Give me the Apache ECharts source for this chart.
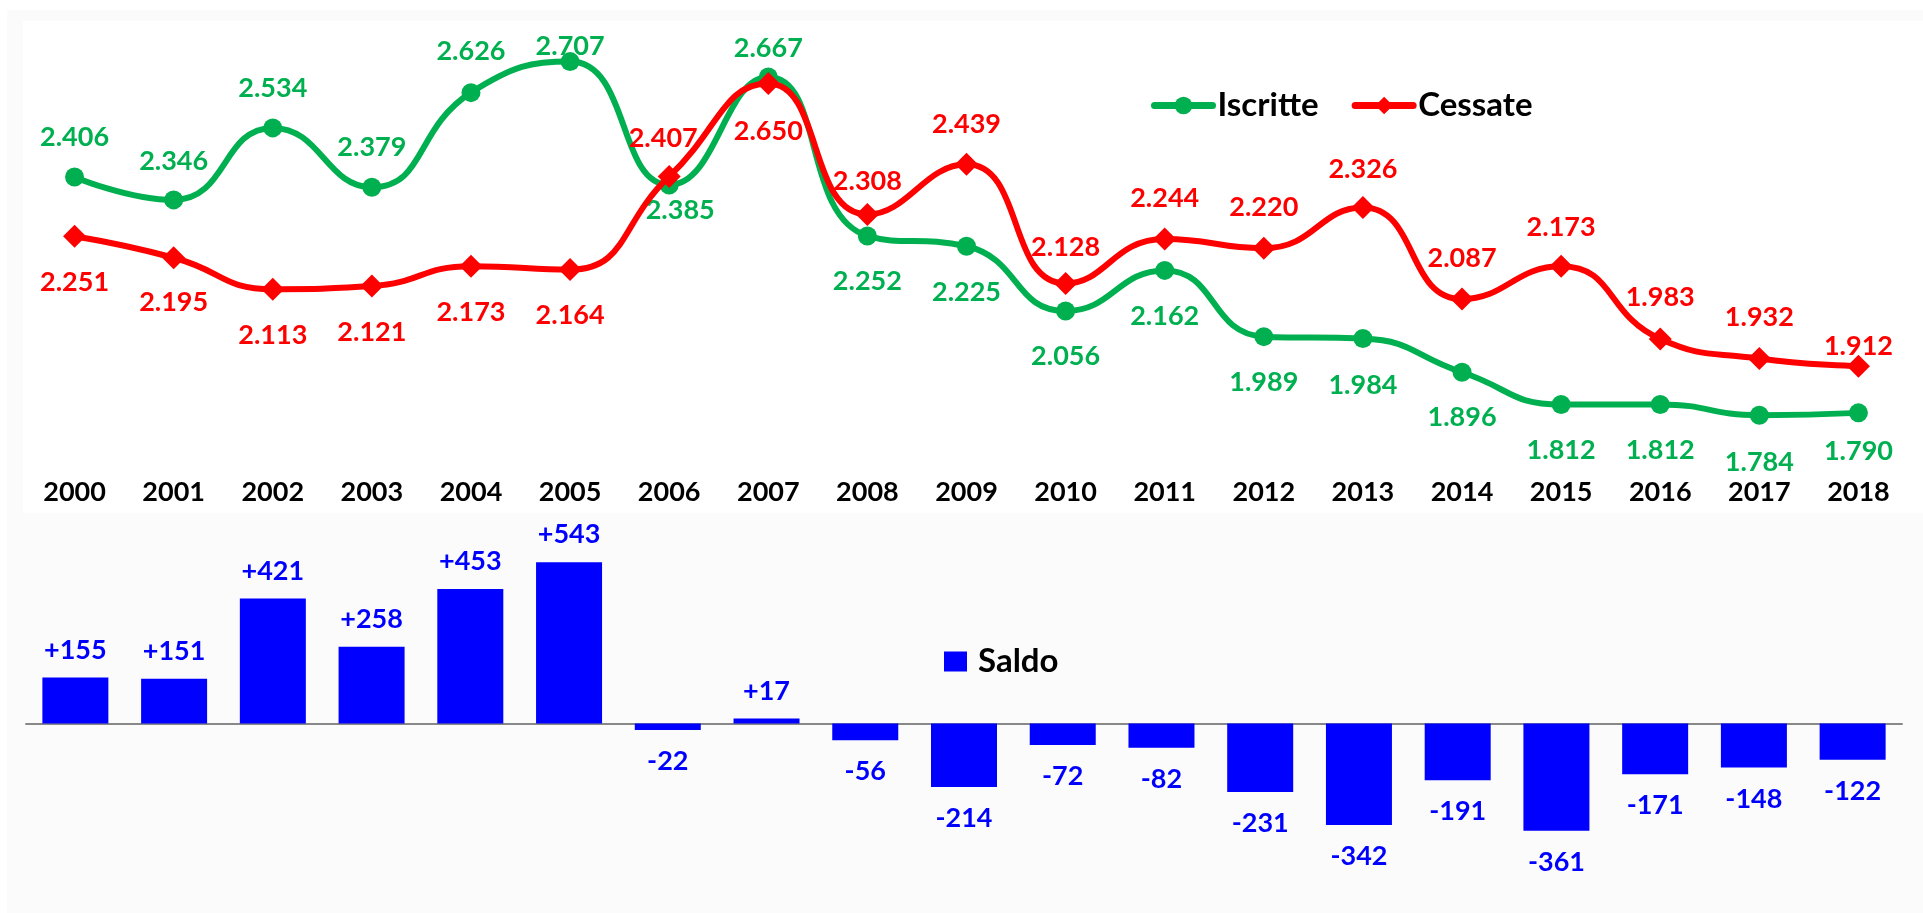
<!DOCTYPE html>
<html>
<head>
<meta charset="utf-8">
<script src="https://cdn.jsdelivr.net/npm/echarts@6/dist/echarts.min.js"></script>
<style>
html, body { margin: 0; padding: 0; background: #fff; }
#main { width: 1923px; height: 913px; }
</style>
</head>
<body>
<div id="main"></div>
<script>
var anni = ['2000', '2001', '2002', '2003', '2004', '2005', '2006', '2007', '2008', '2009',
  '2010', '2011', '2012', '2013', '2014', '2015', '2016', '2017', '2018'];
var iscritte = [2406, 2346, 2534, 2379, 2626, 2707, 2385, 2667, 2252, 2225,
  2056, 2162, 1989, 1984, 1896, 1812, 1812, 1784, 1790];
var cessate = [2251, 2195, 2113, 2121, 2173, 2164, 2407, 2650, 2308, 2439,
  2128, 2244, 2220, 2326, 2087, 2173, 1983, 1932, 1912];
var saldo = [155, 151, 421, 258, 453, 543, -22, 17, -56, -214,
  -72, -82, -231, -342, -191, -361, -171, -148, -122];

// where each data label sits, relative to its point (style only)
var dyIscritte = [-40, -39, -40, -40, -41, -15, 25, -29, 45, 46, 45, 46, 46, 47, 45, 46, 46, 47, 38];
var dxIscritte = [0, 0, 0, 0, 0, 0, 11, 0, 0, 0, 0, 0, 0, 0, 0, 0, 0, 0, 0];
var dyCessate = [46, 45, 46, 46, 46, 46, -38, 48, -33, -40, -36, -41, -41, -38, -41, -39, -42, -41, -20];
var dxCessate = [0, 0, 0, 0, 0, 0, -6, 0, 0, 0, 0, 0, 0, 0, 0, 0, 0, 0, 0];

var FONT = 'Lato';
var VERDE = '#00B050', ROSSO = '#FF0000', BLU = '#0000FF';

function fmtMigliaia(v) {
  return (v / 1000).toFixed(3);
}

function puntiConEtichetta(valori, dx, dy) {
  return valori.map(function (v, i) {
    return { value: v, label: { offset: [dx[i], dy[i]] } };
  });
}

var dom = document.getElementById('main');
var myChart = echarts.init(dom);

var option = {
  backgroundColor: '#ffffff',
  animation: false,
  textStyle: { fontFamily: FONT },
  graphic: [
    { type: 'rect', z: -10, shape: { x: 7, y: 10, width: 1916, height: 903 }, style: { fill: '#fbfbfb' } },
    { type: 'rect', z: -9, shape: { x: 23, y: 21, width: 1900, height: 492 }, style: { fill: '#ffffff' } }
  ],
  legend: [
    {
      data: ['Iscritte', 'Cessate'],
      left: 1146,
      top: 84,
      itemWidth: 58,
      itemHeight: 22,
      itemGap: 33,
      lineStyle: { width: 7, cap: 'round' },
      textStyle: { fontSize: 33, fontWeight: 'bold', color: '#000', fontFamily: FONT }
    },
    {
      data: ['Saldo'],
      left: 939,
      top: 640,
      icon: 'rect',
      itemWidth: 23,
      itemHeight: 20,
      textStyle: { fontSize: 33, fontWeight: 'bold', color: '#000', fontFamily: FONT, padding: [0, 0, 0, 6] }
    }
  ],
  grid: [
    { left: 25, right: 15, top: 26, height: 440.5 },
    { left: 26, right: 21, top: 545.3, height: 356.4 }
  ],
  xAxis: [
    {
      type: 'category',
      gridIndex: 0,
      data: anni,
      axisLine: { show: false },
      axisTick: { show: false },
      axisLabel: { margin: 12, fontSize: 27, fontWeight: 'bold', color: '#000', fontFamily: FONT }
    },
    {
      type: 'category',
      gridIndex: 1,
      data: anni,
      axisLine: { onZero: true, lineStyle: { color: '#888888', width: 2 } },
      axisTick: { show: false },
      axisLabel: { show: false }
    }
  ],
  yAxis: [
    { type: 'value', gridIndex: 0, min: 1650, max: 2800, show: false, splitLine: { show: false } },
    { type: 'value', gridIndex: 1, min: -600, max: 600, show: false, splitLine: { show: false } }
  ],
  series: [
    {
      name: 'Iscritte',
      type: 'line',
      xAxisIndex: 0,
      yAxisIndex: 0,
      data: puntiConEtichetta(iscritte, dxIscritte, dyIscritte),
      smooth: 0.5,
      symbol: 'circle',
      symbolSize: 19,
      lineStyle: { color: VERDE, width: 6 },
      itemStyle: { color: VERDE },
      label: {
        show: true,
        position: 'inside',
        formatter: function (p) { return fmtMigliaia(p.value); },
        fontSize: 27,
        fontWeight: 'bold',
        color: VERDE,
        fontFamily: FONT
      },
      z: 3
    },
    {
      name: 'Cessate',
      type: 'line',
      xAxisIndex: 0,
      yAxisIndex: 0,
      data: puntiConEtichetta(cessate, dxCessate, dyCessate),
      smooth: 0.5,
      symbol: 'diamond',
      symbolSize: 23,
      lineStyle: { color: ROSSO, width: 6 },
      itemStyle: { color: ROSSO },
      label: {
        show: true,
        position: 'inside',
        formatter: function (p) { return fmtMigliaia(p.value); },
        fontSize: 27,
        fontWeight: 'bold',
        color: ROSSO,
        fontFamily: FONT
      },
      z: 4
    },
    {
      name: 'Saldo',
      type: 'bar',
      xAxisIndex: 1,
      yAxisIndex: 1,
      data: saldo.map(function (v) {
        return { value: v, label: { position: v >= 0 ? 'top' : 'bottom', distance: v >= 0 ? 14 : 18 } };
      }),
      barWidth: 66,
      itemStyle: { color: BLU },
      label: {
        show: true,
        formatter: function (p) { return (p.value > 0 ? '+' : '') + p.value; },
        fontSize: 27,
        fontWeight: 'bold',
        color: BLU,
        fontFamily: FONT
      }
    }
  ]
};

if (option && typeof option === 'object') {
  myChart.setOption(option);
}
</script>
</body>
</html>
